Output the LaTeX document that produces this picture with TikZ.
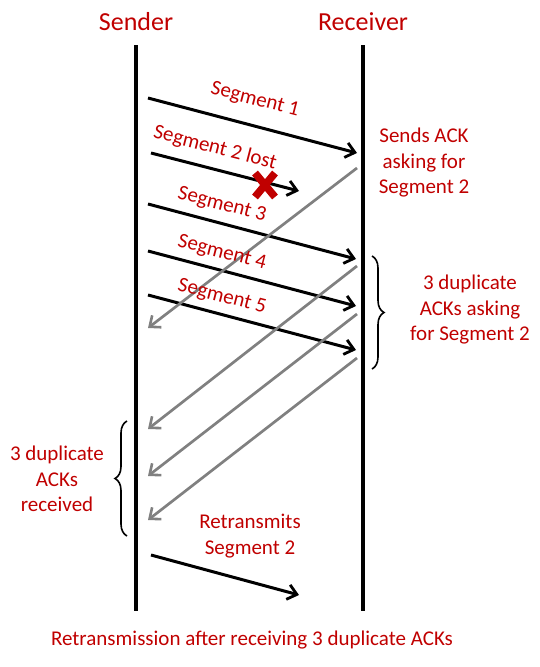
\documentclass[tikz,border=0pt]{standalone}
\usepackage{fontspec}
\setmainfont{Carlito}
\usetikzlibrary{arrows.meta,decorations.pathreplacing}
\definecolor{dred}{HTML}{C00000}
\definecolor{ackgray}{HTML}{808080}
\begin{document}
\begin{tikzpicture}[x=1pt,y=-1pt,
  lifeline/.style={line width=3.2pt,black},
  segarrow/.style={line width=3pt,black,-{Straight Barb[length=9pt,width=15pt,line width=2.8pt]}},
  ackarrow/.style={line width=2.7pt,ackgray,-{Straight Barb[length=9pt,width=15pt,line width=2.6pt]}},
  lbl/.style={text=dred,font=\fontsize{21}{25.5}\selectfont,align=center,inner sep=0pt},
  hdr/.style={text=dred,font=\fontsize{26}{30}\selectfont,inner sep=0pt},
  bracestyle/.style={line width=1.6pt,black,decorate,decoration={brace,amplitude=12pt}}
]
\useasboundingbox (0,0) rectangle (540,667);
% lifelines
\coordinate (st) at (136,45); \coordinate (sb) at (136,611);
\coordinate (rt) at (363,45); \coordinate (rb) at (363,611);
\draw[lifeline] (st) -- (sb);
\draw[lifeline] (rt) -- (rb);
\node[hdr] (sender) at (136,22) {Sender};
\node[hdr] (receiver) at (363,22) {Receiver};
% segments
\coordinate (s1a) at (148,98);  \coordinate (s1b) at (357,153);
\coordinate (s2a) at (151,153); \coordinate (s2b) at (299,191);
\coordinate (s3a) at (148,204); \coordinate (s3b) at (356,259);
\coordinate (s4a) at (148,251); \coordinate (s4b) at (356,306);
\coordinate (s5a) at (148,295); \coordinate (s5b) at (356,350);
\coordinate (rta) at (151,555); \coordinate (rtb) at (299,595);
\draw[segarrow] (s1a) -- (s1b);
\draw[segarrow] (s2a) -- (s2b);
\draw[segarrow] (s3a) -- (s3b);
\draw[segarrow] (s4a) -- (s4b);
\draw[segarrow] (s5a) -- (s5b);
\draw[segarrow] (rta) -- (rtb);
% acks
\coordinate (a1a) at (357,168); \coordinate (a1b) at (148,328);
\coordinate (a2a) at (357,266); \coordinate (a2b) at (148,429);
\coordinate (a3a) at (357,314); \coordinate (a3b) at (148,476);
\coordinate (a4a) at (357,358); \coordinate (a4b) at (148,520);
\draw[ackarrow] (a1a) -- (a1b);
\draw[ackarrow] (a2a) -- (a2b);
\draw[ackarrow] (a3a) -- (a3b);
\draw[ackarrow] (a4a) -- (a4b);
% lost mark
\coordinate (xc) at (265,185);
\draw[dred,line width=7.5pt] ([shift={(-10,-12)}]xc) -- ([shift={(10,12)}]xc);
\draw[dred,line width=7.5pt] ([shift={(10,-12)}]xc) -- ([shift={(-10,12)}]xc);
% segment labels
\node[lbl,rotate=-14.5] (l1) at (255,100) {Segment 1};
\node[lbl,rotate=-14.5] (l2) at (215,148) {Segment 2 lost};
\node[lbl,rotate=-14.5] (l3) at (222,205) {Segment 3};
\node[lbl,rotate=-14.5] (l4) at (222,253) {Segment 4};
\node[lbl,rotate=-14.5] (l5) at (222,297) {Segment 5};
% side texts
\node[lbl] (sends) at (424,163) {Sends ACK\\asking for\\Segment 2};
\node[lbl] (dupr) at (470,310) {3 duplicate\\ACKs asking\\for Segment 2};
\node[lbl] (dupl) at (57,479) {3 duplicate\\ACKs\\received};
\node[lbl] (retx) at (250,536) {Retransmits\\Segment 2};
\node[lbl] (caption) at (252,640) {Retransmission after receiving 3 duplicate ACKs};
% braces
\coordinate (brt) at (372,256); \coordinate (brb) at (372,369);
\draw[bracestyle] (brt) -- (brb);
\coordinate (blt) at (127,536); \coordinate (blb) at (127,421);
\draw[bracestyle] (blt) -- (blb);
\end{tikzpicture}
\end{document}
